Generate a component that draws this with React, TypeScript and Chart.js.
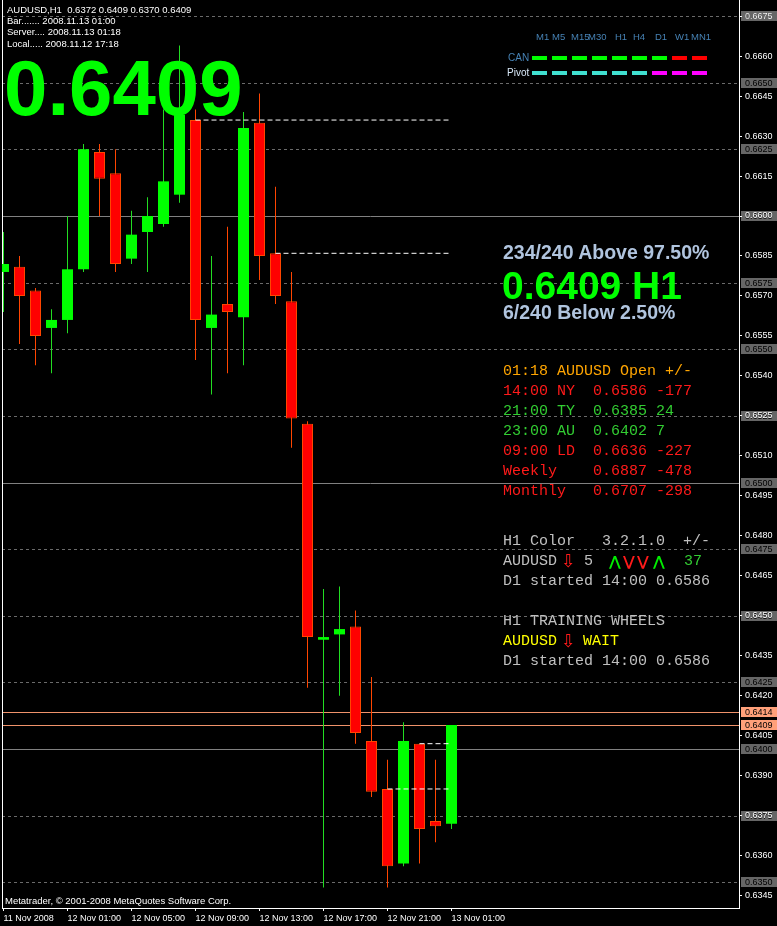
import React, { useEffect, useRef } from "react";
import { Chart, registerables } from "chart.js";

Chart.register(...registerables);

// ---------------- data ----------------
const axisTickBars = [0, 4, 8, 12, 16, 20, 24, 28];
const axisTickLabels = [
  "11 Nov 2008",
  "12 Nov 01:00",
  "12 Nov 05:00",
  "12 Nov 09:00",
  "12 Nov 13:00",
  "12 Nov 17:00",
  "12 Nov 21:00",
  "13 Nov 01:00",
];

// hourly bars 11 Nov 21:00 .. 13 Nov 01:00
const opens = [
  0.6579, 0.6581, 0.6572, 0.6558, 0.6561, 0.658, 0.6624, 0.6616, 0.6584, 0.6594,
  0.6597, 0.6608, 0.6636, 0.6558, 0.6567, 0.6562, 0.6635, 0.6586, 0.6568, 0.6522,
  0.6441, 0.6443, 0.6446, 0.6403, 0.6385, 0.6357, 0.6402, 0.6373, 0.6372,
];
const highs = [
  0.6594, 0.6585, 0.6573, 0.6565, 0.66, 0.6627, 0.6627, 0.6625, 0.6602, 0.6607,
  0.664, 0.6664, 0.664, 0.6585, 0.6596, 0.6639, 0.6646, 0.6611, 0.6579, 0.6523,
  0.646, 0.6461, 0.6452, 0.6427, 0.6396, 0.641, 0.6402, 0.6396, 0.6409,
];
const lows = [
  0.6564, 0.6552, 0.6544, 0.6541, 0.6556, 0.6579, 0.66, 0.6579, 0.6582, 0.6579,
  0.6596, 0.6605, 0.6546, 0.6533, 0.6541, 0.6544, 0.6576, 0.6567, 0.6513, 0.6423,
  0.6348, 0.642, 0.6402, 0.6382, 0.6348, 0.6356, 0.6357, 0.6365, 0.637,
];
const closes = [
  0.6582, 0.657, 0.6555, 0.6561, 0.658, 0.6625, 0.6614, 0.6582, 0.6593, 0.66,
  0.6613, 0.6638, 0.6561, 0.6563, 0.6564, 0.6633, 0.6585, 0.657, 0.6524, 0.6442,
  0.6442, 0.6445, 0.6406, 0.6384, 0.6356, 0.6403, 0.637, 0.6371, 0.6409,
];

const priceTicks = [
  0.6345, 0.636, 0.6375, 0.639, 0.6405, 0.642, 0.6435, 0.645, 0.6465, 0.648,
  0.6495, 0.651, 0.6525, 0.654, 0.6555, 0.657, 0.6585, 0.66, 0.6615, 0.663,
  0.6645, 0.666, 0.6675,
];
const gridLevels = [
  0.635, 0.6375, 0.64, 0.6425, 0.645, 0.6475, 0.65, 0.6525, 0.655, 0.6575,
  0.66, 0.6625, 0.665, 0.6675,
];
const roundLevels = [0.64, 0.65, 0.66];
const quoteLevels = [0.6414, 0.6409];

const sessionStartBars = [12, 17, 24, 26];
const sessionOpenPrices = [0.6636, 0.6586, 0.6385, 0.6402];
const lastBar = 28;

const headerLines = [
  "AUDUSD,H1  0.6372 0.6409 0.6370 0.6409",
  "Bar....... 2008.11.13 01:00",
  "Server.... 2008.11.13 01:18",
  "Local..... 2008.11.12 17:18",
];

const tfLabels = ["M1", "M5", "M15", "M30", "H1", "H4", "D1", "W1", "MN1"];
const tfLabelX = [536, 552, 571, 588, 615, 633, 655, 675, 691];
const canColors = ["#00ff00", "#00ff00", "#00ff00", "#00ff00", "#00ff00", "#00ff00", "#00ff00", "#ff0000", "#ff0000"];
const pivotColors = ["#40e0d0", "#40e0d0", "#40e0d0", "#40e0d0", "#40e0d0", "#40e0d0", "#ff00ff", "#ff00ff", "#ff00ff"];

const sessionRows = [
  "01:18 AUDUSD Open +/-",
  "14:00 NY  0.6586 -177",
  "21:00 TY  0.6385 24",
  "23:00 AU  0.6402 7",
  "09:00 LD  0.6636 -227",
  "Weekly    0.6887 -478",
  "Monthly   0.6707 -298",
];
const sessionRowColors = ["#ffa500", "#ff1a1a", "#32cd32", "#32cd32", "#ff1a1a", "#ff1a1a", "#ff1a1a"];

const chevrons = ["⋀", "⋁", "⋁", "⋀"];
const chevronColors = ["#00ee00", "#ff1a1a", "#ff1a1a", "#00ee00"];

// ---------------- style constants ----------------
const SANS = "'Liberation Sans', Arial, sans-serif";
const MONO = "'Liberation Mono', 'Courier New', monospace";
const SYM = "'DejaVu Sans', sans-serif";
const GRAY_TXT = "#c0c0c0";
const BULL = "#00ff00";
const BEAR = "#ff0000";
const BEAR_EDGE = "#ff4500";

const X_MIN = -0.09375;
const X_MAX = 45.96875;
const Y_MIN = 0.634034;
const Y_MAX = 0.668105;

const near = (a: number, b: number) => Math.abs(a - b) < 1e-9;

const mtPlugin = {
  id: "mtDecor",
  beforeDraw(chart: any) {
    const { ctx, chartArea: a, scales } = chart;
    const y = scales.y;
    ctx.save();
    ctx.fillStyle = "#000";
    ctx.fillRect(0, 0, chart.width, chart.height);
    ctx.lineWidth = 1;
    gridLevels.forEach((v) => {
      const py = Math.round(y.getPixelForValue(v)) + 0.5;
      const solid = roundLevels.some((r) => near(r, v));
      ctx.strokeStyle = solid ? "#808080" : "#6a6a6a";
      ctx.setLineDash(solid ? [] : [3, 3]);
      ctx.beginPath();
      ctx.moveTo(a.left, py);
      ctx.lineTo(a.right, py);
      ctx.stroke();
    });
    ctx.setLineDash([]);
    quoteLevels.forEach((v) => {
      const py = Math.round(y.getPixelForValue(v)) + 0.5;
      ctx.strokeStyle = "#f0926a";
      ctx.beginPath();
      ctx.moveTo(a.left, py);
      ctx.lineTo(a.right, py);
      ctx.stroke();
    });
    ctx.strokeStyle = "#ffffff";
    ctx.beginPath();
    ctx.moveTo(a.left + 0.5, 0);
    ctx.lineTo(a.left + 0.5, a.bottom);
    ctx.stroke();
    ctx.font = "9px 'Liberation Sans', Arial, sans-serif";
    ctx.textBaseline = "middle";
    ctx.textAlign = "left";
    gridLevels.forEach((v) => {
      const py = Math.round(y.getPixelForValue(v));
      ctx.fillStyle = "#666666";
      ctx.fillRect(a.right + 2, py - 5, 36, 10);
      ctx.fillStyle = "#000000";
      ctx.fillText(v.toFixed(4), a.right + 6, py + 0.5);
    });
    quoteLevels.forEach((v) => {
      const py = Math.round(y.getPixelForValue(v));
      ctx.fillStyle = "#ffa07a";
      ctx.fillRect(a.right + 2, py - 5, 36, 10);
      ctx.fillStyle = "#000000";
      ctx.fillText(v.toFixed(4), a.right + 6, py + 0.5);
    });
    ctx.restore();
  },
};

function Txt(props: {
  x: number;
  y: number;
  size: number;
  color: string;
  family?: string;
  bold?: boolean;
  children: any;
}) {
  const { x, y, size, color, family = SANS, bold = false, children } = props;
  return (
    <div
      style={{
        position: "absolute",
        left: x,
        top: y - size / 2,
        fontSize: size,
        lineHeight: `${size}px`,
        color,
        fontFamily: family,
        fontWeight: bold ? "bold" : "normal",
        whiteSpace: "pre",
      }}
    >
      {children}
    </div>
  );
}

function MonoLine(props: { x: number; y: number; color: string; children: any }) {
  return (
    <div
      style={{
        position: "absolute",
        left: props.x,
        top: props.y - 9,
        fontSize: 15,
        lineHeight: "20px",
        color: props.color,
        fontFamily: MONO,
        whiteSpace: "pre",
      }}
    >
      {props.children}
    </div>
  );
}

export default function App() {
  const ref = useRef<HTMLCanvasElement>(null);

  useEffect(() => {
    const canvas = ref.current;
    if (!canvas) return;
    const bull = (i: number) => closes[i] >= opens[i];

    const sessionSets = sessionStartBars.map((s, k) => ({
      type: "line" as const,
      label: "open " + k,
      data: [
        { x: s, y: sessionOpenPrices[k] },
        { x: lastBar, y: sessionOpenPrices[k] },
      ],
      borderColor: "#ffffff",
      borderWidth: 1,
      borderDash: [5, 3],
      pointRadius: 0,
      fill: false,
      order: 0,
      clip: 0,
    }));

    const chart = new Chart(canvas, {
      type: "bar",
      data: {
        datasets: [
          ...sessionSets,
          {
            label: "bodies",
            data: opens.map((o, i) => ({ x: i, y: [o, closes[i]] })),
            backgroundColor: opens.map((_, i) => (bull(i) ? BULL : BEAR)),
            borderColor: opens.map((_, i) => (bull(i) ? BULL : BEAR_EDGE)),
            borderWidth: opens.map((_, i) => (bull(i) ? 0 : 1)),
            borderSkipped: false,
            grouped: false,
            barPercentage: 1,
            categoryPercentage: 1,
            maxBarThickness: 11,
            inflateAmount: 0,
            minBarLength: 2,
            order: 2,
            clip: 0,
          },
          {
            label: "wicks",
            data: lows.map((l, i) => ({ x: i, y: [l, highs[i]] })),
            backgroundColor: opens.map((_, i) => (bull(i) ? "#22dd22" : BEAR_EDGE)),
            borderWidth: 0,
            grouped: false,
            barPercentage: 1,
            categoryPercentage: 1,
            maxBarThickness: 1,
            inflateAmount: 0,
            order: 3,
            clip: 0,
          },
        ] as any,
      },
      options: {
        animation: false,
        responsive: false,
        devicePixelRatio: 1,
        events: [],
        layout: { padding: { left: 2, top: 0, right: 0, bottom: 0 } },
        plugins: { legend: { display: false }, tooltip: { enabled: false } },
        scales: {
          x: {
            type: "linear",
            position: "bottom",
            offset: false,
            min: X_MIN,
            max: X_MAX,
            afterFit: (s: any) => {
              s.height = 18;
              s.paddingLeft = 0;
              s.paddingRight = 0;
            },
            afterBuildTicks: (s: any) => {
              s.ticks = axisTickBars.map((v) => ({ value: v }));
            },
            grid: { offset: false, drawOnChartArea: false, drawTicks: true, tickLength: 3, color: "#ffffff" },
            border: { color: "#ffffff", width: 1 },
            ticks: {
              color: "#ffffff",
              font: { family: SANS, size: 9 },
              align: "start",
              maxRotation: 0,
              minRotation: 0,
              autoSkip: false,
              padding: 2,
              callback: (v: any) => {
                const k = axisTickBars.indexOf(Number(v));
                return k >= 0 ? axisTickLabels[k] : "";
              },
            },
          },
          y: {
            type: "linear",
            position: "right",
            offset: false,
            min: Y_MIN,
            max: Y_MAX,
            afterFit: (s: any) => {
              s.width = 38;
              s.paddingTop = 0;
              s.paddingBottom = 0;
            },
            afterBuildTicks: (s: any) => {
              s.ticks = priceTicks.map((v) => ({ value: v }));
            },
            grid: { drawOnChartArea: false, drawTicks: true, tickLength: 3, color: "#ffffff" },
            border: { color: "#ffffff", width: 1 },
            ticks: {
              color: "#ffffff",
              font: { family: SANS, size: 9 },
              padding: 3,
              autoSkip: false,
              callback: (v: any) => Number(v).toFixed(4),
            },
          },
        },
      } as any,
      plugins: [mtPlugin],
    });
    return () => chart.destroy();
  }, []);

  return (
    <div
      style={{
        position: "absolute",
        left: 0,
        top: 0,
        width: 777,
        height: 926,
        background: "#000",
        overflow: "hidden",
      }}
    >
      <canvas
        ref={ref}
        width={777}
        height={926}
        style={{ position: "absolute", left: 0, top: 0, width: 777, height: 926, display: "block" }}
      />

      {headerLines.map((t, i) => (
        <Txt key={"h" + i} x={7} y={10 + i * 11.1} size={9.5} color="#ffffff">
          {t}
        </Txt>
      ))}

      <Txt x={4} y={88} size={78} color="#00ff00" bold>
        0.6409
      </Txt>

      {tfLabels.map((t, i) => (
        <Txt key={"tf" + i} x={tfLabelX[i]} y={37} size={9.5} color="#4682b4">
          {t}
        </Txt>
      ))}
      <Txt x={508} y={58} size={10} color="#4682b4">
        CAN
      </Txt>
      <Txt x={507} y={73} size={10} color="#d8e8f8">
        Pivot
      </Txt>
      {canColors.map((c, i) => (
        <div
          key={"c" + i}
          style={{ position: "absolute", left: 532 + i * 20, top: 56, width: 15, height: 4, background: c }}
        />
      ))}
      {pivotColors.map((c, i) => (
        <div
          key={"p" + i}
          style={{ position: "absolute", left: 532 + i * 20, top: 71, width: 15, height: 4, background: c }}
        />
      ))}

      <Txt x={503} y={253} size={19.5} color="#b0c4de" bold>
        234/240 Above 97.50%
      </Txt>
      <Txt x={502} y={285} size={39} color="#00ff00" bold>
        0.6409 H1
      </Txt>
      <Txt x={503} y={313} size={19.5} color="#b0c4de" bold>
        6/240 Below 2.50%
      </Txt>

      {sessionRows.map((t, i) => (
        <MonoLine key={"s" + i} x={503} y={371 + i * 20} color={sessionRowColors[i]}>
          {t}
        </MonoLine>
      ))}

      <MonoLine x={503} y={541} color={GRAY_TXT}>
        {"H1 Color   3.2.1.0  +/-"}
      </MonoLine>
      <MonoLine x={503} y={561} color={GRAY_TXT}>
        {"AUDUSD"}
      </MonoLine>
      <Txt x={561} y={561} size={18} color="#ff1a1a" family={SYM}>
        ⇩
      </Txt>
      <MonoLine x={584} y={561} color={GRAY_TXT}>
        {"5"}
      </MonoLine>
      {chevrons.map((c, i) => (
        <Txt key={"ch" + i} x={609 + [0, 14, 28, 44][i]} y={561} size={14} color={chevronColors[i]} family={SYM} bold>
          {c}
        </Txt>
      ))}
      <MonoLine x={684} y={561} color="#32cd32">
        {"37"}
      </MonoLine>
      <MonoLine x={503} y={581} color={GRAY_TXT}>
        {"D1 started 14:00 0.6586"}
      </MonoLine>

      <MonoLine x={503} y={621} color={GRAY_TXT}>
        {"H1 TRAINING WHEELS"}
      </MonoLine>
      <MonoLine x={503} y={641} color="#ffff00">
        {"AUDUSD"}
      </MonoLine>
      <Txt x={561} y={641} size={18} color="#ff1a1a" family={SYM}>
        ⇩
      </Txt>
      <MonoLine x={583} y={641} color="#ffff00">
        {"WAIT"}
      </MonoLine>
      <MonoLine x={503} y={661} color={GRAY_TXT}>
        {"D1 started 14:00 0.6586"}
      </MonoLine>

      <Txt x={5} y={901} size={9.5} color="#ffffff">
        Metatrader, © 2001-2008 MetaQuotes Software Corp.
      </Txt>
    </div>
  );
}
